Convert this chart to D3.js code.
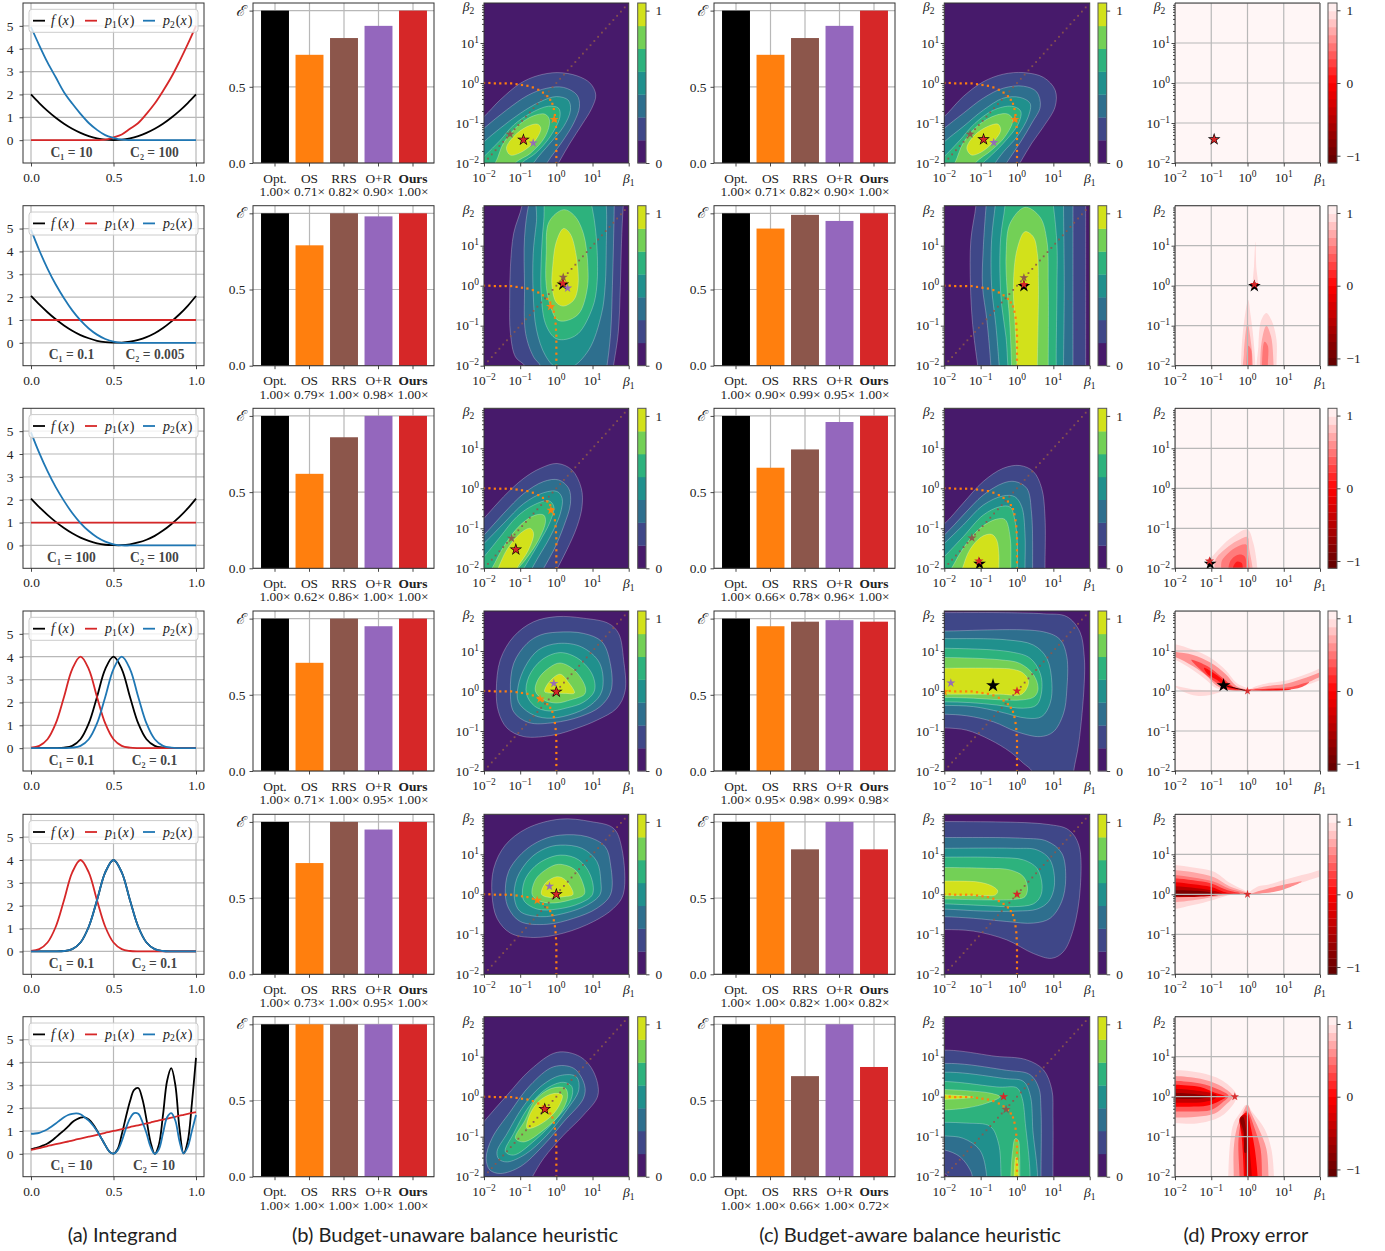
<!DOCTYPE html>
<html><head><meta charset="utf-8">
<script src="https://cdn.jsdelivr.net/npm/d3@7"></script>
<style>html,body{margin:0;background:#fff}svg{display:block}
text{font-family:"Liberation Serif",serif;fill:#222}</style></head><body>
<svg id="c" width="1385" height="1251"></svg>
<script>
// ---------- DATA ----------
const categories=["Opt.","OS","RRS","O+R","Ours"];
const barColors=["#000000","#ff7f0e","#8c564b","#9467bd","#d62728"];
const barsB=[[1,.71,.82,.90,1],[1,.79,1,.98,1],[1,.62,.86,1,1],[1,.71,1,.95,1],[1,.73,1,.95,1],[1,1,1,1,1]];
const barsC=[[1,.71,.82,.90,1],[1,.90,.99,.95,1],[1,.66,.78,.96,1],[1,.95,.98,.99,.98],[1,1,.82,1,.82],[1,1,.66,1,.72]];
const costLabels=[["C₁ = 10","C₂ = 100"],["C₁ = 0.1","C₂ = 0.005"],["C₁ = 100","C₂ = 100"],["C₁ = 0.1","C₂ = 0.1"],["C₁ = 0.1","C₂ = 0.1"],["C₁ = 10","C₂ = 10"]];
const captions=["(a) Integrand","(b) Budget-unaware balance heuristic","(c) Budget-aware balance heuristic","(d) Proxy error"];
const xCoarse=[0,.05,.1,.15,.2,.25,.3,.35,.4,.45,.5,.55,.6,.65,.7,.75,.8,.85,.9,.95,1];
const xFine=[0,.025,.05,.075,.1,.125,.15,.175,.2,.225,.25,.275,.3,.325,.35,.375,.4,.425,.45,.475,.5,.525,.55,.575,.6,.625,.65,.675,.7,.725,.75,.775,.8,.825,.85,.875,.9,.925,.95,.975,1];
const fRow1=[2,1.62,1.28,.98,.72,.5,.32,.18,.08,.02,0,.02,.08,.18,.32,.5,.72,.98,1.28,1.62,2];
const p1Row1=[0,0,0,0,0,0,0,0,0,.02,.12,.25,.5,.75,1.15,1.6,2.15,2.75,3.45,4.2,5];
const p2Row1=[4.95,4.15,3.4,2.75,2.1,1.6,1.15,.75,.45,.22,.1,.02,0,0,0,0,0,0,0,0,0];
const fQuad=[2.05,1.68,1.34,1.03,.76,.53,.34,.2,.09,.03,.01,.01,.05,.13,.25,.42,.65,.93,1.25,1.62,2.05];
const p1Flat=[1,1,1,1,1,1,1,1,1,1,1,1,1,1,1,1,1,1,1,1,1];
const p2Quad=[4.95,4.05,3.25,2.55,1.95,1.42,.98,.63,.36,.17,.05,0,0,0,0,0,0,0,0,0,0];
const fBell=[0,0,0,0,.02,.1,.39,1.08,2.24,3.46,4,3.46,2.24,1.08,.39,.1,.02,0,0,0,0];
const p1Bell=[.02,.1,.39,1.08,2.24,3.46,4,3.46,2.24,1.08,.39,.1,.02,0,0,0,0,0,0,0,0];
const p2Bell=[0,0,0,0,0,.02,.1,.39,1.08,2.24,3.46,4,3.46,2.24,1.08,.39,.1,.02,0,0,0];
const fWave=[.2,.25,.3,.37,.45,.57,.72,.88,1.03,1.2,1.38,1.5,1.58,1.6,1.5,1.3,1.02,.7,.38,.1,.01,.2,.85,1.6,2.3,2.8,2.88,2.4,1.5,.5,0,.4,1.7,3.2,3.75,3,1.1,.02,.55,2.2,4.2];
const p1Wave=[.17,.21,.25,.29,.34,.38,.42,.46,.5,.54,.58,.63,.67,.71,.75,.79,.83,.87,.92,.96,1,1.04,1.08,1.12,1.17,1.21,1.25,1.29,1.33,1.37,1.42,1.46,1.5,1.54,1.58,1.62,1.67,1.71,1.75,1.79,1.83];
const p2Wave=[.88,.89,.92,.99,1.08,1.2,1.33,1.47,1.6,1.7,1.75,1.77,1.73,1.6,1.45,1.25,1,.7,.38,.1,.01,.15,.55,1.1,1.55,1.78,1.75,1.4,.9,.3,0,.2,.9,1.6,1.78,1.45,.55,.02,.3,1,1.7];
const curves=[
 [xCoarse,fRow1,p1Row1,p2Row1],[xCoarse,fQuad,p1Flat,p2Quad],[xCoarse,fQuad,p1Flat,p2Quad],
 [xCoarse,fBell,p1Bell,p2Bell],[xCoarse,fBell,p1Bell,fBell],[xFine,fWave,p1Wave,p2Wave]];
// dotted guide paths, log10(beta1), log10(beta2)
const orangePath=[[-2,0],[-1.85,0],[-1.7,-.01],[-1.55,-.01],[-1.4,-.01],[-1.25,-.01],[-1.1,-.03],[-.95,-.05],[-.8,-.07],[-.65,-.11],[-.5,-.17],[-.37,-.24],[-.25,-.33],[-.17,-.42],[-.11,-.52],[-.07,-.65],[-.04,-.8],[-.02,-.95],[-.01,-1.1],[0,-1.25],[0,-1.4],[0,-1.55],[0,-1.7],[0,-1.85],[0,-2]];
const diagonalPath=[-1.89,-1.785,-1.68,-1.575,-1.47,-1.365,-1.26,-1.155,-1.05,-.945,-.84,-.735,-.63,-.525,-.42,-.315,-.21,-.105,0,.105,.21,.315,.42,.525,.63,.735,.84,.945,1.05,1.155,1.26,1.365,1.47,1.575,1.68,1.785,1.89];
const contoursB=[
 [[1,[-2.6,-1.3,-2,-.84,-1.55,-.42,-1,-.01,-.53,.18,.02,.26,.57,.18,.94,-.01,1.09,-.3,.98,-.63,.7,-1.05,.38,-1.5,.06,-2,-.3,-2.6,-2.6,-2.6]],
  [2,[-2.6,-1.6,-2,-1.13,-1.37,-.67,-.77,-.3,-.26,-.13,.2,-.11,.57,-.3,.64,-.59,.48,-1,.16,-1.47,-.26,-2,-.6,-2.6,-2.6,-2.6]],
  [3,[-2.6,-2,-2,-1.47,-1.55,-1.13,-1,-.76,-.45,-.47,0,-.34,.33,-.43,.39,-.68,.2,-1.09,-.17,-1.5,-.63,-2,-1,-2.6,-2.6,-2.6]],
  [4,[-2.6,-2.4,-2,-1.84,-1.55,-1.43,-1.18,-1.05,-.72,-.76,-.22,-.58,.06,-.63,.1,-.84,-.17,-1.34,-.58,-1.76,-.95,-2,-1.4,-2.6,-2.6,-2.6]],
  [5,[-2.2,-2.6,-1.69,-2,-1.46,-1.5,-1.04,-1.05,-.63,-.82,-.31,-.78,-.19,-.93,-.31,-1.34,-.72,-1.76,-1.14,-2,-1.6,-2.6]],
  [6,[-1.38,-1.63,-1.18,-1.34,-.81,-1.09,-.52,-1.03,-.43,-1.13,-.58,-1.43,-.95,-1.72,-1.27,-1.8]]],
 [[1,[-.9,2.5,-.95,2,-1.18,1.31,-1.27,.47,-1.29,-.36,-1.27,-1.19,-1.13,-1.78,-.87,-2,-.6,-2.5,1.5,-2.5,1.58,-2,1.71,-1.19,1.77,0,1.8,1.06,1.85,2,1.9,2.5]],
  [2,[-.6,2.5,-.77,2,-.88,1.2,-.88,0,-.85,-1.19,-.63,-1.78,-.44,-2,-.3,-2.5,1.3,-2.5,1.4,-2,1.5,-1.19,1.55,0,1.58,1.06,1.6,2,1.6,2.5]],
  [3,[-.45,2.5,-.55,1.6,-.64,.8,-.64,-.2,-.55,-1.1,-.3,-1.75,0,-2.05,.4,-2.05,.9,-1.6,1.25,-.7,1.35,0,1.38,1,1.38,2,1.3,2.5]],
  [4,[-.2,2.5,-.35,1.6,-.42,.6,-.42,-.2,-.3,-.95,-.05,-1.3,.2,-1.35,.6,-1.2,1,-.55,1.12,0,1.12,1,1,1.9,.8,2.5]],
  [5,[.2,1.9,-.2,1.6,-.28,.8,-.28,0,-.15,-.55,.02,-.85,.25,-.88,.62,-.7,.85,-.1,.87,.5,.75,1.3,.5,1.75]],
  [6,[.2,1.43,0,1.1,-.1,.5,-.12,0,0,-.42,.2,-.51,.48,-.36,.6,0,.55,.75,.38,1.3]]],
 [[1,[-2.6,-1.3,-2,-.75,-1.46,-.21,-.9,.25,-.44,.5,.02,.62,.43,.46,.69,0,.71,-.46,.57,-.96,.29,-1.54,.03,-2,-.3,-2.6,-2.6,-2.6]],
  [2,[-2.6,-1.7,-2,-1.17,-1.46,-.63,-.9,-.13,-.35,.17,.06,.21,.34,0,.39,-.38,.2,-.96,-.07,-1.54,-.35,-2,-.7,-2.6,-2.6,-2.6]],
  [3,[-2.6,-1.9,-2,-1.38,-1.46,-.88,-.9,-.38,-.35,-.11,.02,-.08,.16,-.25,.11,-.63,-.17,-1.21,-.49,-1.71,-.67,-2,-1,-2.6,-2.6,-2.6]],
  [4,[-2.6,-2.3,-2,-1.71,-1.55,-1.21,-1.09,-.71,-.63,-.42,-.21,-.31,-.07,-.46,-.17,-.83,-.49,-1.38,-.9,-2,-1.3,-2.6,-2.6,-2.6]],
  [5,[-2.2,-2.6,-1.78,-2,-1.46,-1.46,-1,-.92,-.58,-.67,-.35,-.67,-.3,-.83,-.49,-1.29,-.86,-1.79,-1.05,-2,-1.4,-2.6]],
  [6,[-1.9,-2.6,-1.61,-2,-1.37,-1.54,-1,-1.13,-.72,-1,-.63,-1.13,-.77,-1.54,-1.09,-2,-1.4,-2.6]]],
 [[1,[.02,1.86,.75,1.82,1.44,1.69,1.72,1.44,1.86,.78,1.9,0,1.67,-.43,1.12,-.73,.57,-.93,-.07,-1.1,-.9,-1.14,-1.36,-.93,-1.6,-.52,-1.66,0,-1.55,.78,-1.18,1.36,-.63,1.73]],
  [2,[.02,1.47,.75,1.44,1.26,1.23,1.49,.69,1.51,0,1.21,-.39,.66,-.64,-.07,-.79,-.76,-.79,-1.18,-.52,-1.27,0,-1.18,.69,-.81,1.19,-.44,1.4]],
  [3,[.06,1.19,.7,1.1,1.2,.69,1.26,0,.95,-.35,.35,-.6,-.26,-.68,-.72,-.56,-1.05,-.27,-1.06,.1,-.86,.61,-.49,1.03]],
  [4,[.11,.96,.62,.8,1,.4,1.05,0,.75,-.28,.3,-.42,-.2,-.5,-.6,-.38,-.83,-.06,-.76,.36,-.4,.78]],
  [5,[.1,.7,.5,.52,.8,.1,.78,-.08,.4,-.22,0,-.3,-.35,-.22,-.58,0,-.5,.3,-.2,.58]],
  [6,[.1,.42,.35,.2,.5,-.05,.25,-.06,-.05,-.05,-.32,-.02,-.22,.2]]],
 [[1,[.11,1.88,.94,1.82,1.58,1.65,1.81,1.15,1.85,0,1.58,-.35,1.03,-.68,.2,-.97,-.63,-1.08,-1.27,-.97,-1.64,-.6,-1.78,0,-1.73,.65,-1.41,1.23,-.81,1.65]],
  [2,[.11,1.48,.85,1.44,1.35,1.19,1.5,.73,1.5,0,1.12,-.35,.48,-.6,-.26,-.75,-1,-.68,-1.32,-.35,-1.41,0,-1.32,.57,-.9,1.07,-.4,1.36]],
  [3,[.11,1.23,.71,1.15,1.12,.82,1.23,.32,1.21,0,.85,-.27,.2,-.48,-.44,-.56,-1,-.43,-1.16,-.1,-1.09,.4,-.72,.9,-.3,1.15]],
  [4,[.11,.98,.62,.86,.94,.48,1,0,.66,-.22,.02,-.37,-.53,-.37,-.88,-.18,-.94,.02,-.85,.4,-.48,.78]],
  [5,[.06,.75,.52,.61,.75,.23,.77,0,.39,-.14,-.17,-.22,-.53,-.14,-.67,0,-.58,.36,-.3,.61]],
  [6,[.02,.44,.25,.36,.46,0,.2,-.06,-.17,-.08,-.41,0,-.3,.28]]],
 [[1,[-2.6,-1.3,-2,-.62,-1.36,.04,-.72,.67,.02,1.11,.66,1,1.03,.62,1.15,.04,.75,-.46,.2,-.96,-.35,-1.54,-.66,-2,-1,-2.6,-2.6,-2.6]],
  [2,[-1.94,-1.54,-1.78,-1.04,-1.27,-.37,-.72,.29,-.07,.75,.48,.71,.78,.29,.75,-.04,.2,-.63,-.35,-1.21,-1,-1.75,-1.55,-1.92,-1.84,-1.83]],
  [3,[-1.64,-1.37,-1.36,-.92,-.95,-.29,-.44,.25,.11,.53,.55,.5,.62,.17,.29,-.33,-.26,-.96,-.86,-1.44,-1.36,-1.63,-1.59,-1.56]],
  [4,[-1.41,-1.37,-1.18,-.92,-.76,-.25,-.26,.21,.2,.36,.43,.25,.4,-.08,-.03,-.58,-.58,-1.08,-1.18,-1.46]],
  [5,[-1.13,-1.04,-.86,-.58,-.58,-.08,-.12,.21,.25,.21,.31,0,.11,-.42,-.35,-.83,-.9,-1.13]],
  [6,[-.81,-.79,-.72,-.42,-.44,-.08,-.07,.08,.16,.04,.06,-.25,-.21,-.54,-.58,-.75]]]];
const contoursC=[
 [[1,[-2.6,-1.3,-2,-.84,-1.48,-.34,-.93,.03,-.38,.22,.18,.26,.73,.14,1.05,-.18,1.05,-.59,.73,-1.09,.41,-1.5,.08,-2,-.3,-2.6,-2.6,-2.6]],
  [2,[-2.6,-1.6,-2,-1.13,-1.48,-.76,-.93,-.38,-.38,-.13,.18,-.08,.54,-.22,.64,-.59,.41,-1,.08,-1.5,-.29,-2,-.7,-2.6,-2.6,-2.6]],
  [3,[-2.6,-2,-2,-1.47,-1.48,-1.09,-.93,-.68,-.38,-.38,.08,-.36,.36,-.51,.31,-.84,0,-1.34,-.37,-1.72,-.6,-2,-1,-2.6,-2.6,-2.6]],
  [4,[-2.6,-2.4,-2,-1.84,-1.57,-1.43,-1.16,-1.01,-.65,-.68,-.15,-.58,.1,-.7,.04,-1.01,-.37,-1.5,-.79,-1.88,-.93,-2,-1.3,-2.6,-2.6,-2.6]],
  [5,[-2.1,-2.6,-1.71,-2,-1.48,-1.5,-1.06,-1.05,-.56,-.8,-.24,-.78,-.12,-.93,-.33,-1.34,-.7,-1.68,-1.15,-2,-1.6,-2.6]],
  [6,[-1.38,-1.63,-1.16,-1.3,-.79,-1.08,-.52,-1.03,-.45,-1.18,-.65,-1.47,-.97,-1.72,-1.25,-1.8]]],
 [[1,[-1.1,2.5,-1.13,2,-1.27,1.14,-1.28,0,-1.22,-.97,-1.08,-2,-1,-2.5,1.89,-2.5,1.89,-2,1.89,0,1.89,2,1.89,2.5]],
  [2,[-.8,2.5,-.85,2,-.93,.9,-.95,0,-.83,-.85,-.72,-2,-.7,-2.5,1.54,-2.5,1.54,-2,1.54,0,1.54,2,1.54,2.5]],
  [3,[-.55,2.5,-.6,2,-.7,1.14,-.7,0,-.58,-1,-.49,-2,-.45,-2.5,1.28,-2.5,1.28,-2,1.3,0,1.28,2,1.28,2.5]],
  [4,[-.3,2.5,-.33,2,-.45,1.2,-.47,.3,-.42,-.5,-.3,-1.3,-.25,-2,-.2,-2.5,1.1,-2.5,1.08,-2,1.1,0,1.1,1,1,2,.9,2.5]],
  [5,[.22,1.96,-.19,1.56,-.3,.8,-.28,0,-.21,-.78,-.15,-2,-.15,-2.5,.86,-2.5,.86,-2,.86,0,.82,1.14,.63,1.72]],
  [6,[.22,1.35,0,.9,-.1,0,-.06,-.85,0,-2,0,-2.5,.56,-2.5,.56,-2,.59,0,.56,.8,.45,1.22]]],
 [[1,[-2.6,-1.3,-2,-.89,-1.48,-.37,-.93,.17,-.38,.5,.08,.57,.45,.42,.68,0,.77,-.71,.77,-2,.77,-2.6,-2.6,-2.6]],
  [2,[-2.6,-1.6,-2,-1.17,-1.48,-.67,-.93,-.17,-.38,.13,-.06,.17,.27,0,.4,-.62,.43,-2,.43,-2.6,-2.6,-2.6]],
  [3,[-2.6,-1.9,-2,-1.38,-1.48,-.92,-.93,-.42,-.38,-.19,-.06,-.21,.13,-.46,.22,-1.13,.22,-2,.22,-2.6,-2.6,-2.6]],
  [4,[-2.6,-2.3,-2,-1.71,-1.48,-1.21,-.93,-.67,-.47,-.46,-.19,-.47,-.06,-.79,.01,-1.38,.01,-2,.01,-2.6,-2.6,-2.6]],
  [5,[-2.2,-2.6,-1.8,-2,-1.48,-1.5,-1.02,-1,-.56,-.77,-.33,-.78,-.19,-1.21,-.17,-2,-.17,-2.6]],
  [6,[-1.7,-2.6,-1.5,-2,-1.3,-1.54,-.97,-1.21,-.7,-1.15,-.56,-1.29,-.5,-1.63,-.5,-2,-.5,-2.6]]],
 [[1,[-2.6,-.9,-2,-.92,-1.38,-.98,-.74,-1.22,-.19,-1.52,.18,-1.81,.41,-2,.6,-2.6,1.5,-2.6,1.56,-2,1.7,-1.31,1.85,.19,1.85,.86,1.73,1.48,1.37,1.86,.73,1.93,-.47,1.96,-2,1.96,-2.6,1.96]],
  [2,[-2.6,-.58,-2,-.58,-1.38,-.62,-.65,-.77,0,-1.02,.64,-1.14,1,-1.02,1.28,-.56,1.37,.02,1.37,.86,1.19,1.28,.73,1.48,-2,1.5,-2.6,1.5]],
  [3,[-2.6,-.36,-2,-.36,-1.2,-.39,-.47,-.52,.27,-.68,.68,-.64,.91,-.31,.96,.19,.82,.82,.45,1.15,-.3,1.28,-2,1.31,-2.6,1.31]],
  [4,[-2.6,-.27,-2,-.27,-1.29,-.29,-.56,-.35,.17,-.43,.54,-.35,.68,0,.64,.44,.36,.82,-.19,.98,-2,1.07,-2.6,1.07]],
  [5,[-2.6,-.16,-2,-.16,-1.2,-.18,-.47,-.22,.17,-.22,.48,-.14,.58,.05,.46,.4,.08,.69,-.47,.78,-2,.84,-2.6,.84]],
  [6,[-2.6,-.08,-2,-.08,-.47,-.08,.13,-.08,.32,.23,.18,.44,-.1,.54,-.65,.57,-2,.57,-2.6,.57]]],
 [[1,[-2.6,-.88,-2,-.88,-1.2,-.92,-.28,-1.14,.45,-1.48,.96,-1.6,1.28,-1.43,1.56,-.85,1.74,.15,1.7,1.23,1.42,1.61,.82,1.75,-2,1.82,-2.6,1.82]],
  [2,[-2.6,-.56,-2,-.56,-1.2,-.6,-.28,-.68,.45,-.72,.91,-.6,1.23,-.18,1.34,.4,1.23,1.03,.82,1.33,.18,1.4,-2,1.42,-2.6,1.42]],
  [3,[-2.6,-.37,-2,-.37,-.93,-.42,0,-.42,.55,-.37,.87,-.18,1.03,.23,.91,.86,.55,1.11,-.1,1.15,-2,1.15,-2.6,1.15]],
  [4,[-2.6,-.24,-2,-.24,-.93,-.28,-.1,-.31,.45,-.24,.64,-.06,.69,.23,.55,.65,.18,.86,-.56,.92,-2,.93,-2.6,.93]],
  [5,[-2.6,-.12,-2,-.12,-.65,-.14,0,-.12,.22,-.06,.29,.15,.18,.44,-.19,.61,-.83,.65,-2,.67,-2.6,.67]],
  [6,[-2.6,-.03,-2,-.03,-.93,-.03,-.6,-.02,-.53,.08,-.65,.19,-1.02,.3,-1.57,.33,-2,.33,-2.6,.33]]],
 [[1,[-2.6,1,-.47,1,.27,.92,.73,.67,.96,.17,.99,-.5,.99,-2,1,-2.6,-1.9,-2.6,-1.9,-2,-2,-1.92,-2.6,-1.85]],
  [2,[-2.6,.67,-.19,.65,.36,.55,.6,.22,.66,-.32,.66,-2,.66,-2.6,-1.23,-2.6,-1.23,-2,-1.29,-1.83,-1.57,-1.5,-2,-1.33,-2.6,-1.3]],
  [3,[-2.6,.47,-.28,.45,.18,.38,.36,.05,.43,-.75,.43,-2.6,-.83,-2.6,-.83,-2,-1.02,-1.34,-1.48,-1.04,-2,-.98,-2.6,-.96]],
  [4,[-2.6,.27,-.47,.24,0,.22,.13,0,.22,-.57,.24,-2.6,-.44,-2.6,-.44,-2,-.51,-1.16,-.74,-.74,-1.38,-.66,-2,-.64,-2.6,-.64]],
  [5,[-2.6,.18,-2,.18,-1.38,.15,-.74,.09,-.47,0,-.83,-.16,-1.38,-.28,-2,-.33,-2.6,-.33]],
  [5,[-.05,-1.05,-.12,-1.35,-.17,-2,-.17,-2.6,.08,-2.6,.08,-2,.07,-1.4,.03,-1.08]],
  [6,[-2.6,.05,-2,.05,-1.2,-.01,-2,-.07,-2.6,-.07]],
  [6,[-.03,-1.5,-.08,-2,-.08,-2.6,.04,-2.6,.04,-2,.02,-1.6]]]];
// proxy error: [contour value, outline]
const contoursD=[
 [],
 [[.92,[.22,1.1,.18,.5,.17,0,.27,0,.24,.5]],
  [.92,[.02,-.36,-.13,-1.19,-.18,-2,-.18,-2.4,.22,-2.4,.22,-2,.15,-1.2,.08,-.7]],
  [.7,[0,-.94,-.1,-1.7,-.1,-2.4,.15,-2.4,.15,-2,.1,-1.45]],
  [.5,[.02,-1.5,-.03,-2,-.03,-2.4,.12,-2.4,.12,-2,.1,-1.6]],
  [.92,[.52,-.68,.38,-.86,.3,-1.52,.3,-2.4,.8,-2.4,.8,-2,.8,-1.35,.66,-.86]],
  [.7,[.52,-1,.39,-1.4,.35,-2,.35,-2.4,.72,-2.4,.72,-2,.65,-1.27]],
  [.5,[.47,-1.4,.4,-2,.4,-2.4,.56,-2.4,.56,-2,.56,-1.5]]],
 [[.92,[-1.08,-1.87,-.76,-1.49,-.39,-1.2,0,-1.03,.16,-1.37,.27,-2,.27,-2.3,-1.03,-2.3,-1.03,-1.95]],
  [.72,[-.9,-1.83,-.52,-1.45,-.21,-1.28,0,-1.22,.05,-1.53,.14,-2,.14,-2.3,-.76,-2.3]],
  [.52,[-.62,-1.7,-.35,-1.49,-.03,-1.41,.02,-1.7,.06,-2,.06,-2.3,-.62,-2.3,-.72,-1.85]],
  [.32,[-.48,-1.83,-.25,-1.66,-.08,-1.7,-.03,-2,-.03,-2.3,-.48,-2.3]],
  [.12,[-.39,-1.95,-.28,-1.83,-.16,-1.87,-.13,-2,-.13,-2.3,-.39,-2.3]]],
 [[.92,[-2.3,1.2,-2,1.17,-1.5,1.03,-1,.82,-.6,.52,-.3,.2,0,.05,-.5,.02,-.86,.07,-1.13,.27,-1.5,.52,-2,.78,-2.3,.85]],
  [.92,[-2,.12,-1.77,-.02,-1.4,-.12,-1.03,-.1,-.71,0,-1.03,.02,-1.5,.04]],
  [.92,[0,0,.15,.09,.52,.19,1,.25,1.5,.38,2,.57,2.3,.7,2.3,.4,2,.27,1.5,.12,1,.02,.5,0]],
  [.62,[-2.3,1.05,-2,.98,-1.5,.9,-1,.7,-.6,.42,-.3,.12,0,.02,-.5,.02,-.86,.14,-1.13,.38,-1.5,.62,-2,.85,-2.3,.92]],
  [.62,[0,.01,.6,.13,1,.17,1.5,.3,2,.47,2.3,.6,2.3,.45,2,.35,1.5,.15,1,.02,.3,0]],
  [.35,[.1,.01,.7,.07,1.2,.1,1.7,.22,1.5,.1,1,.02,.4,0]],
  [.3,[-1.55,.78,-1.1,.62,-.7,.34,-.3,.06,-.1,.02,-.55,.04,-.85,.2,-1.2,.45]],
  [.05,[-1.2,.58,-.85,.4,-.5,.15,-.25,.04,-.55,.08,-.85,.28,-1.1,.42]],
  [.05,[-.1,.03,.5,.04,1,.05,1.2,.03,.5,0]]],
 [[.92,[-2.3,.75,-2,.73,-1.5,.67,-.94,.57,-.48,.28,0,.03,-.48,-.02,-.94,-.14,-1.5,-.27,-2,-.37,-2.3,-.4]],
  [.92,[0,0,.3,.2,.52,.23,1,.36,1.5,.48,2,.61,2.3,.72,2.3,.5,2,.44,1.26,.23,.52,.09,.3,0]],
  [.7,[-2.3,.62,-2,.6,-1.5,.55,-.94,.43,-.5,.2,0,.02,-.5,-.01,-.94,-.07,-1.5,-.15,-2,-.2,-2.3,-.22]],
  [.5,[-2.3,.5,-2,.48,-1.5,.42,-.94,.32,-.5,.14,0,.01,-.6,-.01,-1,-.03,-1.5,-.06,-2,-.08,-2.3,-.08]],
  [.6,[.1,.01,.6,.15,1,.24,1.5,.32,1,.12,.5,.03]],
  [.2,[-2.3,.42,-2,.4,-1.5,.35,-1,.27,-.55,.1,-.2,.02,-.6,0,-1.2,-.01,-2,-.02,-2.3,-.02]],
  [-.1,[-2.3,.3,-2,.3,-1.5,.25,-1,.18,-.65,.06,-.4,.01,-1,0,-2.3,0]],
  [-.5,[-2.3,.2,-2,.2,-1.4,.15,-.9,.08,-.7,.01,-2.3,0]],
  [-.9,[-2.3,.1,-2,.1,-1.3,.08,-.9,.02,-2.3,0]]],
 [[.92,[-2.3,.67,-2,.67,-1.3,.6,-.72,.42,-.35,.13,-.3,0,-.4,-.2,-.75,-.5,-1.4,-.67,-2,-.66,-2.3,-.66]],
  [.65,[-2.3,.52,-2,.52,-1.3,.45,-.8,.3,-.45,.08,-.4,0,-.6,-.2,-.9,-.42,-1.4,-.5,-2,-.52,-2.3,-.52]],
  [.35,[-2.3,.4,-2,.4,-1.3,.33,-.85,.2,-.52,.02,-.7,-.15,-1,-.33,-1.5,-.37,-2,-.37,-2.3,-.37]],
  [0,[-2.3,.3,-2,.3,-1.3,.24,-.9,.1,-.6,0,-.8,-.12,-1.1,-.22,-1.6,-.25,-2,-.25,-2.3,-.25]],
  [-.4,[-2.3,.2,-2,.2,-1.3,.14,-.85,.03,-.9,-.05,-1.2,-.13,-2,-.15,-2.3,-.15]],
  [-.8,[-2.3,.1,-2,.1,-1.3,.05,-1,0,-1.3,-.05,-2,-.05,-2.3,-.05]],
  [.92,[-.03,-.2,-.2,-.4,-.38,-.65,-.48,-1.15,-.53,-2,-.53,-2.4,.73,-2.4,.73,-2,.66,-1.32,.48,-.82,.15,-.4]],
  [.65,[0,-.2,-.15,-.45,-.3,-.8,-.38,-1.3,-.38,-2,-.38,-2.4,.58,-2.4,.58,-2,.52,-1.3,.32,-.82,.1,-.4]],
  [.35,[-.03,-.35,-.17,-.6,-.25,-1.1,-.22,-2,-.22,-2.4,.4,-2.4,.4,-2,.36,-1.3,.2,-.8,.03,-.4]],
  [0,[-.05,-.4,-.2,-.55,-.15,-1.1,-.1,-2,-.1,-2.4,.28,-2.4,.28,-2,.2,-1.3,.1,-.8,0,-.4]],
  [-.4,[-.1,-.45,-.22,-.55,-.12,-1,-.05,-2,-.05,-2.4,.12,-2.4,.12,-2,.05,-1.2,0,-.5]],
  [-.8,[-.12,-.5,-.2,-.55,-.1,-.9,-.08,-1.4,-.03,-1.4]]]];
// stars: [colour key, log10 beta1, log10 beta2]
const starsB=[
 [["k",-.91,-1.42],["brown",-1.28,-1.28],["orange",-.06,-.91],["purple",-.64,-1.5],["red",-.91,-1.42]],
 [["k",.18,.03],["brown",.19,.21],["orange",-.16,-.52],["purple",.31,-.06],["red",.18,.06]],
 [["k",-1.12,-1.53],["brown",-1.24,-1.25],["orange",-.15,-.55],["red",-1.12,-1.53]],
 [["k",0,-.02],["purple",-.07,.19],["orange",-.45,-.2],["red",0,-.02]],
 [["k",0,0],["purple",-.19,.2],["orange",-.53,-.15],["red",0,0]],
 [["k",-.32,-.31],["red",-.32,-.31]]];
const starsC=[
 [["k",-.92,-1.41],["brown",-1.29,-1.28],["orange",-.06,-.91],["purple",-.64,-1.49],["red",-.92,-1.41]],
 [["k",.19,-.01],["brown",.19,.2],["red",.19,.03]],
 [["k",-1.03,-1.89],["brown",-1.24,-1.24],["red",-1.05,-1.82]],
 [["K",-.66,.14],["purple",-1.82,.2],["orange",-2,-.02],["red",0,0]],
 [["red",0,0]],
 [["brown",-.3,-.32],["red",-.37,0]]];
const starsD=[
 [["k",-.92,-1.41],["red",-.92,-1.41]],
 [["k",.19,-.01],["red",.19,.03]],
 [["k",-1.03,-1.89],["red",-1.05,-1.82]],
 [["K",-.66,.14],["red2",0,0]],
 [["red2",0,0]],
 [["red2",-.35,0]]];
const errorLinks=[null,null,null,[[-.66,.14],[0,0]],null,null];
const viridisBands=["#471a6b","#3f4788","#2e6f8e","#20908d","#2db27d","#73d056","#d2e11b"];
const viridisEdges=[0,.15,.3,.45,.6,.75,.9,1.05];
const errorEdges=[-1.1,-.99,-.88,-.77,-.66,-.55,-.44,-.33,-.22,-.11,0,.11,.22,.33,.44,.55,.66,.77,.88,.99,1.1];
const errorStops=[-1.1,0,.95,1.1], errorColors=["#5e0000","#ff0000","#ffe0e0","#fff6f6"];
const decadeTicks=[.01,.1,1,10,100];
const starColors={k:"#000",K:"#000",red:"#d62728",red2:"#d62728",brown:"#8c564b",orange:"#ff7f0e",purple:"#9467bd"};
const seriesColors=["#000000","#d62728","#1f77b4"];

// ---------- LAYOUT ----------
const rowTop=[3,205.7,408.3,611,814.3,1016.7], ph=160;
const svg=d3.select("#c");
const FS=13.4, spine="#333", gridC="#b8b8b8";
const errColor=d3.scaleLinear().domain(errorStops).range(errorColors);
let clipId=0;
function clip(g,x0,x1,y0,y1){const id="cl"+(clipId++);
  svg.append("clipPath").attr("id",id).append("rect").attr("x",x0).attr("y",y0).attr("width",x1-x0).attr("height",y1-y0);
  return g.append("g").attr("clip-path",`url(#${id})`);}
function frame(g,x0,x1,y0,y1,col){g.append("rect").attr("x",x0).attr("y",y0).attr("width",x1-x0).attr("height",y1-y0).attr("fill","none").attr("stroke",col||spine).attr("stroke-width",1);}
function styleAxis(a){a.select(".domain").remove();a.selectAll("line").attr("stroke",spine).attr("stroke-width",.9);a.selectAll("text").attr("font-size",FS).attr("fill","#222").attr("font-family",'"Liberation Serif",serif');return a;}
function grid(g,xs,ys,x0,x1,y0,y1,w){
  g.selectAll(null).data(xs).join("line").attr("x1",d=>d).attr("x2",d=>d).attr("y1",y0).attr("y2",y1).attr("stroke",gridC).attr("stroke-width",w||1.2);
  g.selectAll(null).data(ys).join("line").attr("x1",x0).attr("x2",x1).attr("y1",d=>d).attr("y2",d=>d).attr("stroke",gridC).attr("stroke-width",w||1.2);}

function drawCurves(r){
  const x0=23,x1=204,y0=rowTop[r],y1=y0+ph;
  const xx=d3.scaleLinear().domain([0,1]).range([31,196]);
  const y=d3.scaleLinear().domain([-1,6]).range([y1,y0]);
  const g=svg.append("g");
  const yt=[0,1,2,3,4,5], xt=[0,.5,1];
  grid(g,xt.map(xx),yt.map(y),x0,x1,y0,y1);
  const [xs,...ser]=curves[r];
  const line=d3.line().curve(d3.curveCatmullRom.alpha(.5));
  const c=clip(g,x0,x1,y0,y1);
  ser.forEach((v,i)=>c.append("path").attr("d",line(v.map((d,j)=>[xx(xs[j]),y(d)]))).attr("fill","none").attr("stroke",seriesColors[i]).attr("stroke-width",1.8));
  styleAxis(g.append("g").attr("transform",`translate(${x0},0)`).call(d3.axisLeft(y).tickValues(yt).tickSize(3.5).tickPadding(6).tickFormat(d3.format("d"))));
  styleAxis(g.append("g").attr("transform",`translate(0,${y1})`).call(d3.axisBottom(xx).tickValues(xt).tickSize(3.5).tickPadding(6).tickFormat(d3.format(".1f"))));
  frame(g,x0,x1,y0,y1);
  // legend
  g.append("rect").attr("x",29).attr("y",y0+6.3).attr("width",169).attr("height",23).attr("rx",3).attr("fill","#fff").attr("fill-opacity",.8).attr("stroke","#ccc").attr("stroke-width",1);
  const ly=y0+17.7;
  [[33,45,51,"f",null],[85,97,105,"p","1"],[143,155,163,"p","2"]].forEach((e,i)=>{
    g.append("line").attr("x1",e[0]).attr("x2",e[1]).attr("y1",ly).attr("y2",ly).attr("stroke",seriesColors[i]).attr("stroke-width",1.8);
    const t=g.append("text").attr("x",e[2]).attr("y",ly+4.5).attr("font-size",14).attr("fill","#333");
    t.append("tspan").attr("font-style","italic").text(e[3]);
    if(e[4]){t.append("tspan").attr("font-size",9.5).attr("dy",2.5).text(e[4]);t.append("tspan").attr("dy",-2.5).attr("dx",1).text("(");} else t.append("tspan").attr("dx",3).text("(");
    t.append("tspan").attr("font-style","italic").text("x");t.append("tspan").attr("dx",1).text(")");
  });
  // cost labels
  const cx=[71.5,r===1?155:(r===5?154:154.5)];
  costLabels[r].forEach((s,i)=>g.append("text").attr("x",cx[i]).attr("y",y0+153.5).attr("text-anchor","middle").attr("font-size",13.6).attr("font-weight","bold").attr("fill",seriesColors[i+1]).attr("fill-opacity",.85).text(s));
}
function drawBars(r,vals,off){
  const x0=253+off,x1=434+off,y0=rowTop[r],y1=y0+ph;
  const x=d3.scaleBand().domain(categories).range([257.75+off,430.25+off]).paddingInner(.19).paddingOuter(.095);
  const y=d3.scaleLinear().domain([0,1.05]).range([y1,y0]);
  const g=svg.append("g");
  const yt=[0,.5,1];
  grid(g,categories.map(c=>x(c)+x.bandwidth()/2),yt.map(y),x0,x1,y0,y1);
  g.selectAll(null).data(vals).join("rect").attr("x",(d,i)=>x(categories[i])).attr("width",x.bandwidth()).attr("y",d=>y(d)).attr("height",d=>y(0)-y(d)).attr("fill",(d,i)=>barColors[i]);
  styleAxis(g.append("g").attr("transform",`translate(${x0},0)`).call(d3.axisLeft(y).tickValues(yt).tickSize(3.5).tickPadding(4).tickFormat(d=>d===1?"":d3.format(".1f")(d))));
  const ax=styleAxis(g.append("g").attr("transform",`translate(0,${y1})`).call(d3.axisBottom(x).tickSize(3.5).tickFormat("")));
  ax.selectAll("text").remove();
  categories.forEach((c,i)=>{
    const cx=x(c)+x.bandwidth()/2;
    g.append("text").attr("x",cx).attr("y",y1+19.5).attr("text-anchor","middle").attr("font-size",FS).attr("font-weight",i===4?"bold":"normal").text(c);
    g.append("text").attr("x",cx).attr("y",y1+33).attr("text-anchor","middle").attr("font-size",FS).text(vals[i].toFixed(2)+"×");
  });
  g.append("text").attr("x",x0-13).attr("y",y0+12.5).attr("text-anchor","middle").attr("font-size",15).attr("font-style","italic").attr("font-family","DejaVu Serif").text("ℰ");
  frame(g,x0,x1,y0,y1);
}
function logAxes(g,x,y,x0,x1,y0,y1){
  const minor=[];decadeTicks.slice(0,-1).forEach(d=>[2,3,4,5,6,7,8,9].forEach(m=>minor.push(d*m)));
  styleAxis(g.append("g").attr("transform",`translate(${x0},0)`).call(d3.axisLeft(y).tickValues(minor).tickSize(2).tickFormat("")));
  styleAxis(g.append("g").attr("transform",`translate(${x0},0)`).call(d3.axisLeft(y).tickValues(decadeTicks.slice(0,-1)).tickSize(3.5).tickPadding(4).tickFormat("")));
  styleAxis(g.append("g").attr("transform",`translate(0,${y1})`).call(d3.axisBottom(x).tickValues(decadeTicks.slice(0,-1).concat(100)).tickSize(3.5).tickPadding(5).tickFormat("")));
  const lab=(t,d)=>{const e=Math.round(Math.log10(d));t.text("");t.append("tspan").text("10");t.append("tspan").attr("font-size",9.5).attr("dy",-5).text(e<0?"−"+(-e):e);};
  decadeTicks.slice(0,-1).forEach(d=>lab(g.append("text").attr("x",x0-5).attr("y",y(d)+4.5).attr("text-anchor","end").attr("font-size",FS),d));
  decadeTicks.slice(0,-1).forEach(d=>lab(g.append("text").attr("x",x(d)).attr("y",y1+19).attr("text-anchor","middle").attr("font-size",FS),d));
  const beta=(X,Y,s)=>{const t=g.append("text").attr("x",X).attr("y",Y).attr("text-anchor","middle").attr("font-size",13.5);t.append("tspan").attr("font-style","italic").text("β");t.append("tspan").attr("font-size",9.5).attr("dy",3).text(s);};
  beta(x1,y1+20,"1");beta(x0-15.5,y0+8,"2");
}
function drawStars(c,list,x,y){
  list.forEach(s=>{const big=s[0]==="k"?50:(s[0]==="K"?60:(s[0]==="red2"?22:26));
    c.append("path").attr("d",d3.symbol(d3.symbolStar,big)()).attr("transform",`translate(${x(10**s[1])},${y(10**s[2])})`).attr("fill",starColors[s[0]]).attr("fill-opacity",(s[0]==="k"||s[0]==="K"||s[0]==="red")?1:.95);});
}
const polyPts=(a,x,y)=>{const p=[];for(let i=0;i<a.length;i+=2)p.push([x(10**a[i]),y(10**a[i+1])]);return p;};
const closed=d3.line().curve(d3.curveCatmullRomClosed.alpha(.5));
function drawContour(r,polys,stars,x0,x1){
  const y0=rowTop[r],y1=y0+ph,g=svg.append("g");
  const x=d3.scaleLog().domain([.01,100]).range([x0,x1]);
  const y=d3.scaleLog().domain([.01,100]).range([y1,y0]);
  const c=clip(g,x0,x1,y0,y1);
  c.append("rect").attr("x",x0).attr("y",y0).attr("width",x1-x0).attr("height",ph).attr("fill",viridisBands[0]);
  polys.forEach(p=>c.append("path").attr("d",closed(polyPts(p[1],x,y))).attr("fill",viridisBands[p[0]]).attr("stroke","#fff").attr("stroke-opacity",.45).attr("stroke-width",.6));
  c.selectAll(null).data(orangePath).join("rect").attr("x",d=>x(10**d[0])-1.1).attr("y",d=>y(10**d[1])-1.1).attr("width",2.2).attr("height",2.2).attr("fill","#ff7f0e");
  c.selectAll(null).data(diagonalPath).join("rect").attr("x",d=>x(10**d)-.9).attr("y",d=>y(10**d)-.9).attr("width",1.8).attr("height",1.8).attr("fill","#8c564b").attr("fill-opacity",.9);
  drawStars(c,stars,x,y);
  logAxes(g,x,y,x0,x1,y0,y1);
  frame(g,x0,x1,y0,y1);
}
function drawError(r,polys,stars,link,x0,x1){
  const y0=rowTop[r],y1=y0+ph,g=svg.append("g");
  const x=d3.scaleLog().domain([.01,100]).range([x0,x1]);
  const y=d3.scaleLog().domain([.01,100]).range([y1,y0]);
  const c=clip(g,x0,x1,y0,y1);
  c.append("rect").attr("x",x0).attr("y",y0).attr("width",x1-x0).attr("height",ph).attr("fill","#fff6f6");
  polys.forEach(p=>c.append("path").attr("d",closed(polyPts(p[1],x,y))).attr("fill",errColor(p[0])));
  grid(c,decadeTicks.map(x),decadeTicks.map(y),x0,x1,y0,y1);
  if(link)c.append("line").attr("x1",x(10**link[0][0])).attr("y1",y(10**link[0][1])).attr("x2",x(10**link[1][0])).attr("y2",y(10**link[1][1])).attr("stroke","#400").attr("stroke-width",1);
  drawStars(c,stars,x,y);
  logAxes(g,x,y,x0,x1,y0,y1);
  g.append("line").attr("x1",x0).attr("x2",x1).attr("y1",y0).attr("y2",y0).attr("stroke",spine);
  g.append("line").attr("x1",x1).attr("x2",x1).attr("y1",y0).attr("y2",y1).attr("stroke","#777").attr("stroke-width",1.5);
  g.append("line").attr("x1",x0).attr("x2",x0).attr("y1",y0).attr("y2",y1).attr("stroke",spine);
  g.append("line").attr("x1",x0).attr("x2",x1).attr("y1",y1).attr("y2",y1).attr("stroke",spine);
}
function drawBar(r,x0,x1,edges,colorOf,domain,ticks,fmt){
  const y0=rowTop[r],y1=y0+ph,g=svg.append("g");
  const y=d3.scaleLinear().domain(domain).range([y1,y0]);
  g.selectAll(null).data(d3.pairs(edges)).join("rect").attr("x",x0).attr("width",x1-x0).attr("y",d=>y(d[1])).attr("height",d=>y(d[0])-y(d[1])+.3).attr("fill",(d,i)=>colorOf(d,i));
  styleAxis(g.append("g").attr("transform",`translate(${x1},0)`).call(d3.axisRight(y).tickValues(ticks).tickSize(3.5).tickPadding(6).tickFormat(fmt)));
  frame(g,x0,x1,y0,y1,"#555");
}
const minusFmt=d=>d<0?"−"+(-d):""+d;
rowTop.forEach((_,r)=>{
  drawCurves(r);
  drawBars(r,barsB[r],0);
  drawContour(r,contoursB[r],starsB[r],484,628.7);
  drawBar(r,637.7,646,viridisEdges,(d,i)=>viridisBands[i],[0,1.05],[0,1],d3.format("d"));
  drawBars(r,barsC[r],461);
  drawContour(r,contoursC[r],starsC[r],944.3,1089.7);
  drawBar(r,1098,1106.7,viridisEdges,(d,i)=>viridisBands[i],[0,1.05],[0,1],d3.format("d"));
  drawError(r,contoursD[r],starsD[r],errorLinks[r],1175,1320);
  drawBar(r,1328,1337,errorEdges,d=>errColor((d[0]+d[1])/2),[-1.1,1.1],[-1,0,1],minusFmt);
});
const capX=[122.5,455,910,1246];
captions.forEach((s,i)=>svg.append("text").attr("x",capX[i]).attr("y",1242).attr("text-anchor","middle").attr("font-size",20.1).attr("fill","#222").style("font-family","Lato").text(s));
</script></body></html>
